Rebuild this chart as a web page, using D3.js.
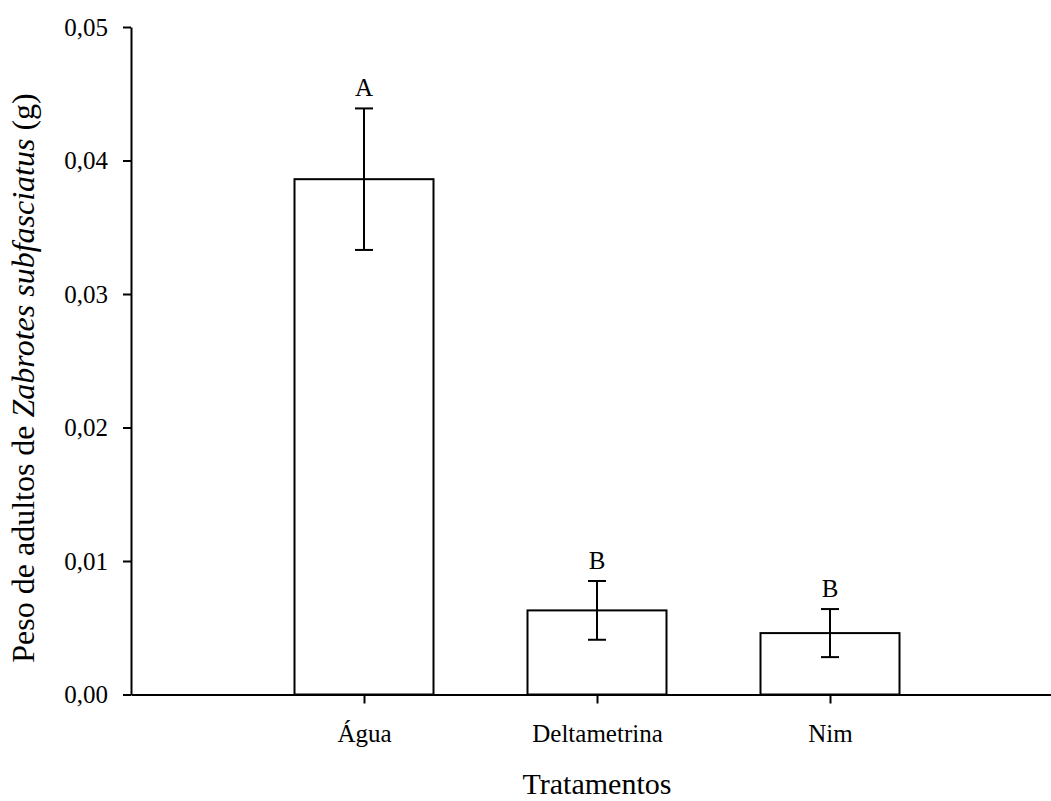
<!DOCTYPE html>
<html>
<head>
<meta charset="utf-8">
<script src="https://cdn.jsdelivr.net/npm/d3@7"></script>
<style>
  html, body { margin: 0; padding: 0; background: #fff; }
  svg { display: block; }
</style>
</head>
<body>
<div id="chart"></div>
<script>
// data
const categories = ["Água", "Deltametrina", "Nim"];
const means = [0.0386, 0.0063, 0.0046];
const errors = [0.0053, 0.0022, 0.0018];
const letters = ["A", "B", "B"];
const yTicks = [0, 0.01, 0.02, 0.03, 0.04, 0.05];

const width = 1051,
    height = 801,
    marginLeft = 131, // y axis position
    marginTop = 27,
    plotBottom = 694.5,
    step = 233, // distance between bar centres
    barWidth = 139,
    capWidth = 18,
    font = "'Liberation Serif', 'Times New Roman', Times, serif";

// categories sit at 1, 2, 3 on a 0..4 axis
const x = d3.scaleLinear()
    .domain([0, categories.length + 1])
    .range([marginLeft, marginLeft + step * (categories.length + 1)]);

const y = d3.scaleLinear()
    .domain([0, 0.05])
    .range([plotBottom, marginTop]);

const fmt = d => d3.format(".2f")(d).replace(".", ",");

const svg = d3.select("#chart").append("svg")
    .attr("width", width)
    .attr("height", height)
    .attr("font-family", font);

// y axis
svg.append("g")
    .attr("transform", `translate(${marginLeft},0)`)
    .call(d3.axisLeft(y).tickValues(yTicks).tickFormat(fmt).tickSize(8).tickPadding(15).tickSizeOuter(0))
    .call(g => g.selectAll("path, line").attr("stroke", "#000").attr("stroke-width", 2))
    .call(g => g.selectAll("text").attr("font-size", 25).attr("font-family", font).attr("fill", "#000"));

// bars
const rows = categories.map((c, i) => ({c, i, m: means[i], e: errors[i], l: letters[i]}));

svg.append("g")
  .selectAll("rect")
  .data(rows)
  .join("rect")
    .attr("x", d => x(d.i + 1) - barWidth / 2)
    .attr("y", d => y(d.m))
    .attr("width", barWidth)
    .attr("height", d => y(0) - y(d.m))
    .attr("fill", "#fff")
    .attr("stroke", "#000")
    .attr("stroke-width", 2);

// error bars
const err = svg.append("g")
    .attr("stroke", "#000")
    .attr("stroke-width", 2)
  .selectAll("g")
  .data(rows)
  .join("g");

err.append("line")
    .attr("x1", d => x(d.i + 1))
    .attr("x2", d => x(d.i + 1))
    .attr("y1", d => y(d.m - d.e))
    .attr("y2", d => y(d.m + d.e));

err.append("line")
    .attr("x1", d => x(d.i + 1) - capWidth / 2)
    .attr("x2", d => x(d.i + 1) + capWidth / 2)
    .attr("y1", d => y(d.m + d.e))
    .attr("y2", d => y(d.m + d.e));

err.append("line")
    .attr("x1", d => x(d.i + 1) - capWidth / 2)
    .attr("x2", d => x(d.i + 1) + capWidth / 2)
    .attr("y1", d => y(d.m - d.e))
    .attr("y2", d => y(d.m - d.e));

// significance letters
svg.append("g")
  .selectAll("text")
  .data(rows)
  .join("text")
    .attr("x", d => x(d.i + 1))
    .attr("y", d => y(d.m + d.e) - 12.5)
    .attr("text-anchor", "middle")
    .attr("font-size", 25)
    .text(d => d.l);

// x axis (drawn after the bars so it sits on top)
svg.append("g")
    .attr("transform", `translate(0,${plotBottom})`)
    .call(d3.axisBottom(x).tickValues(d3.range(1, categories.length + 1))
        .tickFormat(i => categories[i - 1]).tickSize(9).tickPadding(21).tickSizeOuter(0))
    .call(g => g.selectAll("path, line").attr("stroke", "#000").attr("stroke-width", 2))
    .call(g => g.selectAll("text").attr("font-size", 25).attr("font-family", font).attr("fill", "#000"));

// axis titles
svg.append("text")
    .attr("x", x((categories.length + 1) / 2))
    .attr("y", 794)
    .attr("text-anchor", "middle")
    .attr("font-size", 30)
    .text("Tratamentos");

const yTitle = svg.append("text")
    .attr("transform", `translate(34,378) rotate(-90)`)
    .attr("text-anchor", "middle")
    .attr("font-size", 32);
yTitle.append("tspan").text("Peso de adultos de ");
yTitle.append("tspan").attr("font-style", "italic").text("Zabrotes subfasciatus");
yTitle.append("tspan").text(" (g)");
</script>
</body>
</html>
